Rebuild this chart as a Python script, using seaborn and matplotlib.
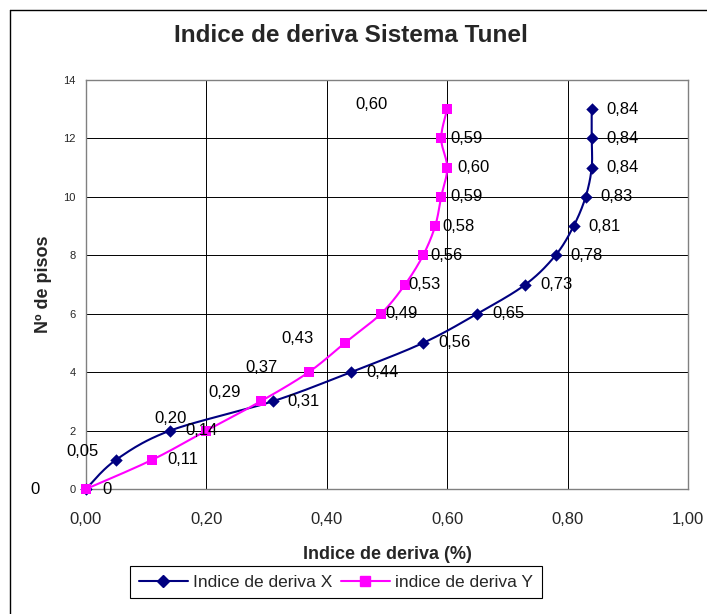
import numpy as np
import pandas as pd
import matplotlib
matplotlib.use("Agg")
import matplotlib.pyplot as plt
from matplotlib.lines import Line2D
import seaborn as sns

# Floors and drift index per direction
pisos = list(range(14))
deriva_x = [0, 0.05, 0.14, 0.31, 0.44, 0.56, 0.65, 0.73, 0.78, 0.81, 0.83, 0.84, 0.84, 0.84]
deriva_y = [0, 0.11, 0.20, 0.29, 0.37, 0.43, 0.49, 0.53, 0.56, 0.58, 0.59, 0.60, 0.59, 0.60]
x_ticks = [0.0, 0.2, 0.4, 0.6, 0.8, 1.0]
y_ticks = [0, 2, 4, 6, 8, 10, 12, 14]
serie_x = "Indice de deriva X"
serie_y = "indice de deriva Y"

# label offsets in pixels (dx, dy, horizontal alignment)
off_x = [(-46, 0, "right"), (-17, 8, "right")] + [(15, 0, "left")] * 12
off_y = [(16, 0, "left"), (15, 0, "left"), (-20, 12, "right"), (-20, 9, "right"),
         (-31, 5, "right"), (-31, 4, "right"), (4, 0, "left"), (3, 0, "left"),
         (7, 0, "left"), (7, 0, "left"), (9, 0, "left"), (10, 0, "left"),
         (9, 0, "left"), (-60, 5, "right")]

NAVY = "#000080"
MAGENTA = "#FF00FF"

sns.set_style("white")
plt.rcParams["font.family"] = ["Liberation Sans", "DejaVu Sans"]

W, H = 707, 614
fig = plt.figure(figsize=(W / 100, H / 100), dpi=100)
ax = fig.add_axes([86 / W, (H - 489) / H, 602 / W, 409 / H])
ax.set_xlim(0, 1)
ax.set_ylim(0, 14)


def smooth(xs, ys, sx=602.0, sy=409 / 14, n=24):
    """Bezier smoothing through the points, computed in screen proportions."""
    P = np.column_stack([np.asarray(xs) * sx, np.asarray(ys) * sy])
    Q = np.vstack([P[0], P, P[-1]])
    out = [P[:1]]
    t = np.linspace(0, 1, n)[1:, None]
    for i in range(len(P) - 1):
        p0, p1, p2, p3 = Q[i], Q[i + 1], Q[i + 2], Q[i + 3]
        c1 = p1 + (p2 - p0) / 6
        c2 = p2 - (p3 - p1) / 6
        seg = ((1 - t) ** 3) * p1 + 3 * ((1 - t) ** 2) * t * c1 + 3 * (1 - t) * t ** 2 * c2 + t ** 3 * p2
        out.append(seg)
    C = np.vstack(out)
    return C[:, 0] / sx, C[:, 1] / sy


for vals, col, mk, ms, name in [(deriva_x, NAVY, "D", 40, serie_x), (deriva_y, MAGENTA, "s", 50, serie_y)]:
    cx, cy = smooth(vals, pisos)
    curve = pd.DataFrame({"x": cx, "y": cy})
    sns.lineplot(data=curve, x="x", y="y", sort=False, estimator=None, color=col, lw=1.5, ax=ax)
    pts = pd.DataFrame({"x": vals, "y": pisos})
    sns.scatterplot(data=pts, x="x", y="y", marker=mk, s=ms, color=col, edgecolor=col, linewidth=0,
                    ax=ax, zorder=5, clip_on=False)


def fmt(v):
    return "0" if v == 0 else f"{v:.2f}".replace(".", ",")


for vals, offs in [(deriva_x, off_x), (deriva_y, off_y)]:
    for v, p, (dx, dy, ha) in zip(vals, pisos, offs):
        ax.annotate(fmt(v), (v, p), xytext=(dx, dy), textcoords="offset pixels",
                    ha=ha, va="center", fontsize=12, color="black", annotation_clip=False, zorder=6)

ax.set_xticks(x_ticks)
ax.set_xticklabels([f"{v:.2f}".replace(".", ",") for v in x_ticks], fontsize=12)
ax.set_yticks(y_ticks)
ax.set_yticklabels([str(v) for v in y_ticks], fontsize=8)
ax.tick_params(axis="x", direction="out", length=4.5, width=0.8, color="black", pad=12)
ax.tick_params(axis="y", direction="out", length=4.5, width=0.8, color="black", pad=3)
ax.grid(True, color="black", lw=0.7)
for s in ax.spines.values():
    s.set_color("#808080")
    s.set_linewidth(1.0)

ax.set_xlabel("Indice de deriva (%)", fontsize=13, fontweight="bold", labelpad=14)
ax.set_ylabel("Nº de pisos", fontsize=13, fontweight="bold", labelpad=8)

fig.text(351 / W, (H - 35) / H, "Indice de deriva Sistema Tunel", ha="center", va="center",
         fontsize=17.5, fontweight="bold")

handles = [Line2D([], [], color=NAVY, marker="D", ms=6, lw=1.5, label=serie_x),
           Line2D([], [], color=MAGENTA, marker="s", ms=6.5, lw=1.5, label=serie_y)]
leg = fig.legend(handles=handles, loc="center", bbox_to_anchor=(336 / W, (H - 582) / H), ncol=2,
                 fontsize=12.5, frameon=True, fancybox=False, edgecolor="black", framealpha=1,
                 handlelength=2.8, handletextpad=0.3, columnspacing=0.5, borderpad=0.5)
leg.get_frame().set_linewidth(0.8)

# outer chart frame
fig.add_artist(Line2D([10 / W, 10 / W], [0, (H - 10) / H], color="black", lw=1.0, transform=fig.transFigure))
fig.add_artist(Line2D([10 / W, 1], [(H - 10) / H, (H - 10) / H], color="black", lw=1.0, transform=fig.transFigure))

fig.savefig("out.png", dpi=100)
